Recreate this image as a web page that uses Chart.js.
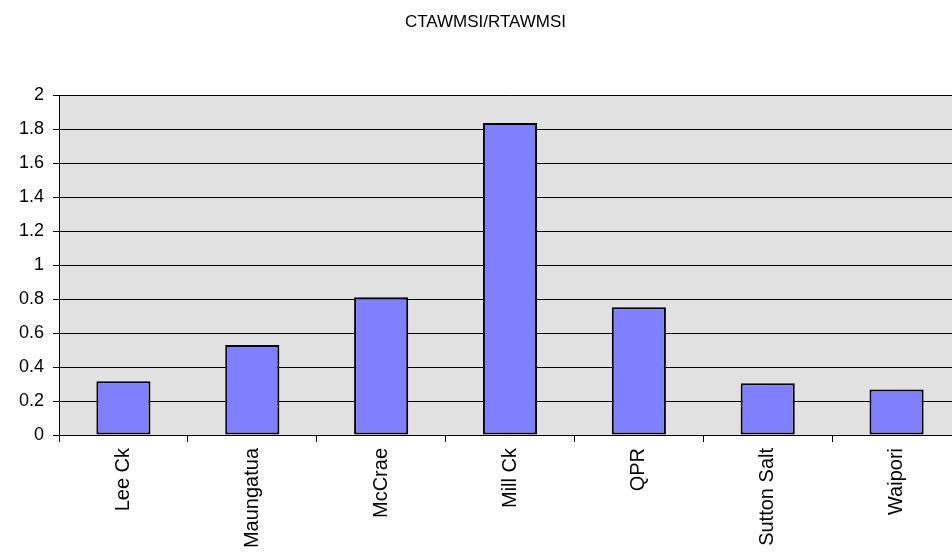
<!DOCTYPE html>
<html>
<head>
<meta charset="utf-8">
<script src="https://cdn.jsdelivr.net/npm/chart.js@4.4.1/dist/chart.umd.min.js"></script>
<style>
html,body{margin:0;padding:0;background:#fff;overflow:hidden;width:952px;height:559px;}
#wrap{position:absolute;left:0;top:0;width:961px;height:559px;}
</style>
</head>
<body>
<div id="wrap"><canvas id="c" width="961" height="559"></canvas></div>
<script>
const chartTitle = "CTAWMSI/RTAWMSI";
const categories = ["Lee Ck", "Maungatua", "McCrae", "Mill Ck", "QPR", "Sutton Salt", "Waipori"];
const values = [0.316, 0.530, 0.810, 1.835, 0.752, 0.304, 0.268];
const yTicks = [0, 0.2, 0.4, 0.6, 0.8, 1, 1.2, 1.4, 1.6, 1.8, 2];

const plotBg = {
  id: 'plotBg',
  beforeDraw(chart) {
    const {ctx, chartArea: a} = chart;
    ctx.save();
    ctx.fillStyle = '#e1e1e1';
    ctx.fillRect(a.left, a.top, a.right - a.left, a.bottom - a.top);
    ctx.restore();
  }
};

new Chart(document.getElementById('c'), {
  type: 'bar',
  data: {
    labels: categories,
    datasets: [{
      data: values,
      backgroundColor: '#8080ff',
      borderColor: '#000000',
      borderWidth: 2,
      borderSkipped: false,
      categoryPercentage: 1,
      barPercentage: 0.42
    }]
  },
  options: {
    responsive: false,
    animation: false,
    devicePixelRatio: 1,
    layout: {padding: {left: 10, right: 0, top: 0, bottom: 0}},
    plugins: {
      legend: {display: false},
      tooltip: {enabled: false},
      title: {
        display: true,
        text: chartTitle,
        color: '#000',
        font: {family: 'Liberation Sans, Arial, sans-serif', size: 17, weight: 'normal', lineHeight: 1.2},
        padding: {top: 12, bottom: 62.6}
      }
    },
    scales: {
      x: {
        afterFit(s) { s.height = 124; },
        grid: {drawOnChartArea: false, drawTicks: true, tickLength: 7, color: '#000', offset: true},
        border: {display: true, color: '#000', width: 1},
        ticks: {
          color: '#000',
          maxRotation: 90, minRotation: 90,
          padding: 6,
          font: {family: 'Liberation Sans, Arial, sans-serif', size: 20}
        }
      },
      y: {
        min: 0, max: 2,
        afterFit(s) { s.width = 49; },
        afterBuildTicks(s) { s.ticks = yTicks.map(v => ({value: v})); },
        grid: {color: '#000', lineWidth: 1, tickLength: 6, drawTicks: true},
        border: {display: true, color: '#000', width: 1},
        ticks: {
          color: '#000',
          padding: 9,
          font: {family: 'Liberation Sans, Arial, sans-serif', size: 18},
          callback: (v) => String(Math.round(v * 10) / 10)
        }
      }
    }
  },
  plugins: [plotBg]
});
</script>
</body>
</html>
